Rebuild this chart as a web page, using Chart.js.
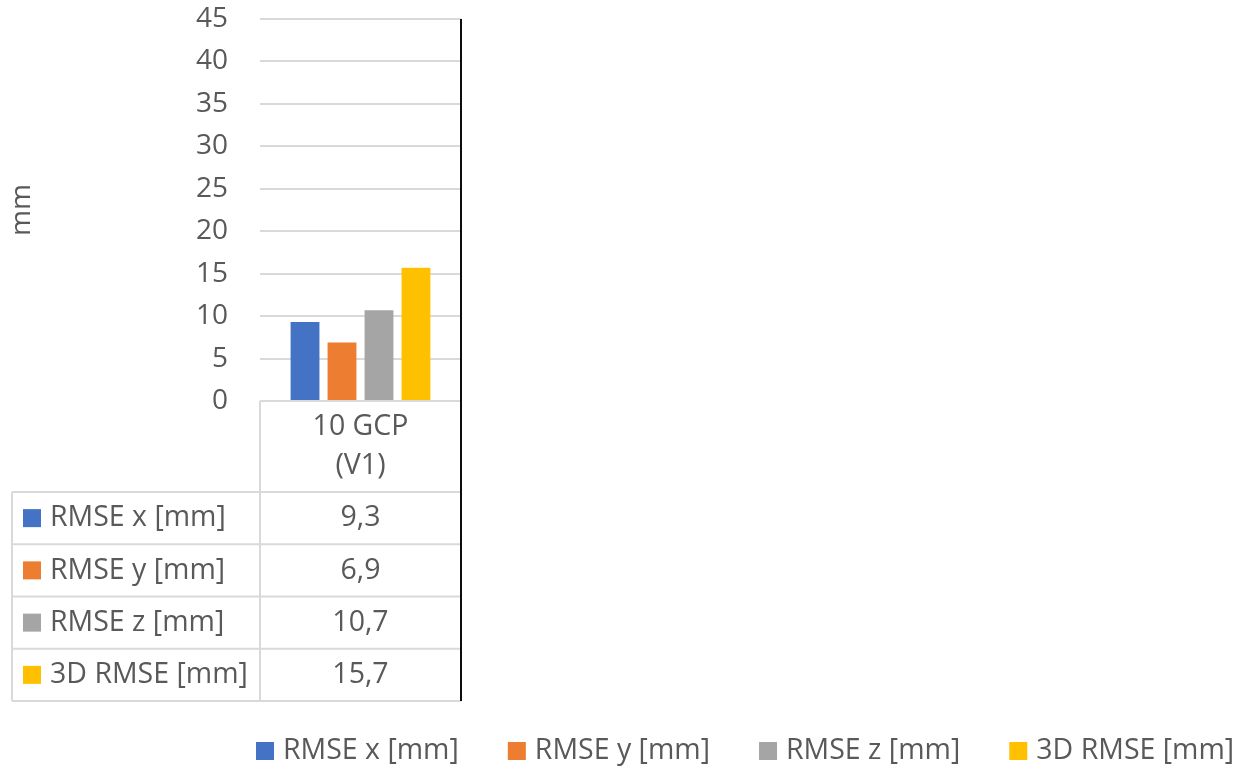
<!DOCTYPE html>
<html>
<head>
<meta charset="utf-8">
<script src="https://cdn.jsdelivr.net/npm/chart.js@4.4.1/dist/chart.umd.min.js"></script>
<style>
  html, body { margin: 0; padding: 0; background: #fff; }
  #wrap { width: 1235px; height: 771px; }
</style>
</head>
<body>
<div id="wrap"><canvas id="rmseChart" width="1235" height="771"></canvas></div>
<script>
// RMSE der Kontrollpunkte, eine Variante (10 GCP), Werte in mm
const CATEGORIES = ['10 GCP (V1)'];
const CATEGORY_LINES = [['10 GCP', '(V1)']];
const SERIES_NAMES = ['RMSE x [mm]', 'RMSE y [mm]', 'RMSE z [mm]', '3D RMSE [mm]'];
const SERIES_VALUES = [[9.3], [6.9], [10.7], [15.7]];
const SERIES_COLORS = ['#4472c4', '#ed7d31', '#a5a5a5', '#ffc000'];
const Y_MIN = 0;
const Y_MAX = 45;
const Y_STEP = 5;
const Y_TITLE = 'mm';

const textColor = '#595959';
const gridColor = '#d9d9d9';
const fontFamily = '"Open Sans", "Liberation Sans", sans-serif';
const textFont = '28.5px ' + fontFamily;

const fmt = v => v.toFixed(1).replace('.', ',');

const dataTable = {
  id: 'dataTable',
  afterDraw(chart) {
    const ctx = chart.ctx;
    const a = chart.chartArea;
    const left = 12, mid = a.left, right = a.right;
    const headBottom = 492;
    const tableBottom = 701;
    const rowH = (tableBottom - headBottom) / SERIES_NAMES.length;

    ctx.save();
    ctx.strokeStyle = gridColor;
    ctx.lineWidth = 2;
    ctx.beginPath();
    // header cell
    ctx.moveTo(mid, a.bottom); ctx.lineTo(right, a.bottom);
    ctx.moveTo(mid, a.bottom); ctx.lineTo(mid, tableBottom);
    // row lines
    for (let i = 0; i <= SERIES_NAMES.length; i++) {
      const y = headBottom + i * rowH;
      ctx.moveTo(left, y); ctx.lineTo(right, y);
    }
    ctx.moveTo(left, headBottom); ctx.lineTo(left, tableBottom);
    ctx.stroke();

    // dark frame line on the right
    ctx.strokeStyle = '#0d0d0d';
    ctx.lineWidth = 2;
    ctx.beginPath();
    ctx.moveTo(right, a.top); ctx.lineTo(right, tableBottom);
    ctx.stroke();

    ctx.font = textFont;
    ctx.fillStyle = textColor;
    ctx.textBaseline = 'middle';

    // category header
    ctx.textAlign = 'center';
    CATEGORIES.forEach((c, ci) => {
      const cx = (mid + right) / 2;
      const lines = CATEGORY_LINES[ci];
      lines.forEach((ln, li) => ctx.fillText(ln, cx, 427 + li * 39));
    });

    // rows
    SERIES_NAMES.forEach((name, i) => {
      const cy = headBottom + rowH * (i + 0.5);
      ctx.fillStyle = SERIES_COLORS[i];
      ctx.fillRect(23, cy - 9, 18, 18);
      ctx.fillStyle = textColor;
      ctx.textAlign = 'left';
      ctx.fillText(name, 50, cy);
      ctx.textAlign = 'center';
      SERIES_VALUES[i].forEach(v => ctx.fillText(fmt(v), (mid + right) / 2, cy));
    });

    // legend
    let lx = 256;
    const ly = 751;
    ctx.textAlign = 'left';
    SERIES_NAMES.forEach((name, i) => {
      ctx.fillStyle = SERIES_COLORS[i];
      ctx.fillRect(lx, ly - 9, 18, 18);
      ctx.fillStyle = textColor;
      ctx.fillText(name, lx + 27, ly);
      lx += 27 + ctx.measureText(name).width + 49;
    });
    ctx.restore();
  }
};

new Chart(document.getElementById('rmseChart'), {
  type: 'bar',
  data: {
    labels: CATEGORIES,
    datasets: SERIES_NAMES.map((n, i) => ({
      label: n,
      data: SERIES_VALUES[i],
      backgroundColor: SERIES_COLORS[i],
      categoryPercentage: 0.736,
      barPercentage: 0.78
    }))
  },
  options: {
    responsive: false,
    animation: false,
    layout: { padding: { top: 19, right: 774, bottom: 370, left: 0 } },
    plugins: {
      legend: { display: false },
      tooltip: { enabled: false }
    },
    scales: {
      x: { display: false },
      y: {
        min: Y_MIN, max: Y_MAX,
        afterFit(scale) {
          scale.width = 260;
          scale.paddingTop = 0;
          scale.paddingBottom = 0;
        },
        border: { display: false },
        grid: { color: gridColor, lineWidth: 2, drawTicks: false },
        ticks: {
          stepSize: Y_STEP, padding: 32, color: textColor,
          font: { family: fontFamily, size: 28 }
        },
        title: {
          display: true, text: Y_TITLE, color: textColor,
          padding: { top: 5, bottom: 0 },
          font: { family: fontFamily, size: 28 }
        }
      }
    }
  },
  plugins: [dataTable]
});
</script>
</body>
</html>
